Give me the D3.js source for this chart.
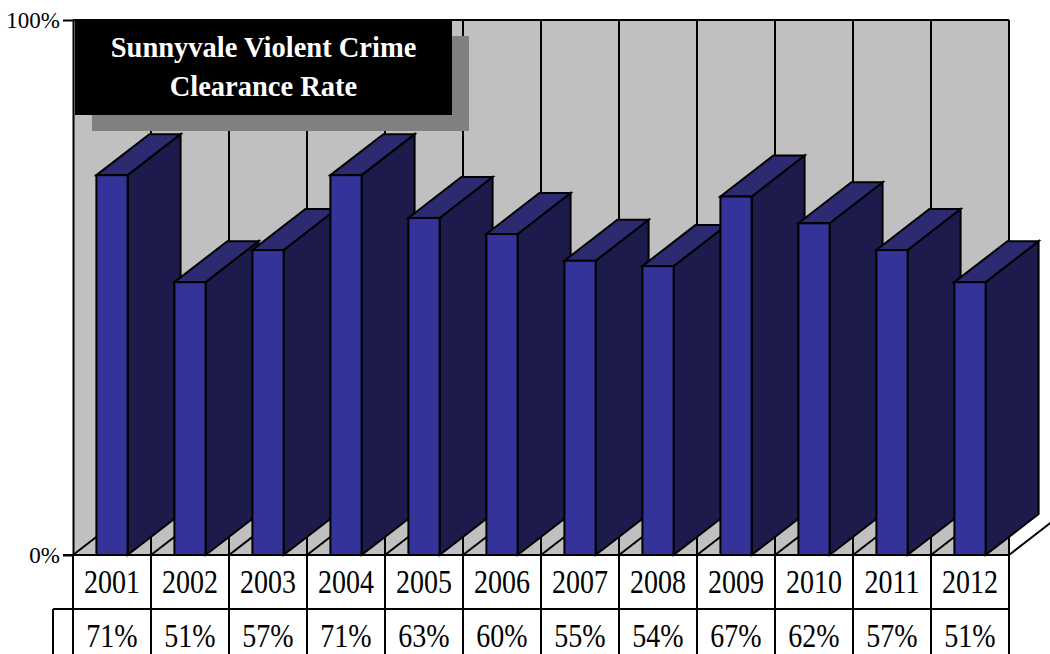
<!DOCTYPE html>
<html>
<head>
<meta charset="utf-8">
<script src="https://cdn.jsdelivr.net/npm/d3@7/dist/d3.min.js"></script>
<style>
  html, body { margin: 0; padding: 0; background: #ffffff; }
  svg { display: block; }
  text { font-family: "Liberation Serif", "Times New Roman", serif; }
</style>
</head>
<body>
<svg id="chart" width="1050" height="654"></svg>
<script>
// Sunnyvale violent crime clearance rate, 2001–2012 (percent)
const years = ["2001", "2002", "2003", "2004", "2005", "2006", "2007", "2008", "2009", "2010", "2011", "2012"];
const rates = [71, 51, 57, 71, 63, 60, 55, 54, 67, 62, 57, 51];
const yTicks = [0, 100];
const titleLines = ["Sunnyvale Violent Crime", "Clearance Rate"];

const W = 1050, H = 654;
const plot = { left: 73, right: 1009, top: 20, bottom: 555 };
const depth = { dx: 53, dy: -41 };      // oblique offset for the 3-D look
const rowSplit = 609;                    // line between year row and value row

const colors = {
  wall: "#c0c0c0",
  front: "#333399",
  top: "#2c2a70",
  side: "#1d1b4b",
  titleBg: "#000000",
  titleShadow: "#808080",
  line: "#000000"
};

const svg = d3.select("#chart");

const x = d3.scaleBand().domain(years).range([plot.left, plot.right]).padding(0);
const y = d3.scaleLinear().domain([0, 100]).range([plot.bottom, plot.top]);
const bw = x.bandwidth();
const barW = bw * 0.4;
const barOffset = bw * 0.3;

// back wall
svg.append("rect")
  .attr("x", plot.left).attr("y", plot.top)
  .attr("width", plot.right - plot.left).attr("height", plot.bottom - plot.top)
  .attr("fill", colors.wall);

// category boundaries on the wall and their floor diagonals
const bounds = years.map(d => x(d)).concat([plot.right]);
const grid = svg.append("g").attr("stroke", colors.line).attr("stroke-width", 2).attr("fill", "none");
grid.selectAll("line.v")
  .data(bounds.slice(1))
  .join("line")
  .attr("class", "v")
  .attr("x1", d => d).attr("x2", d => d)
  .attr("y1", plot.top).attr("y2", plot.bottom);
grid.selectAll("line.f")
  .data(bounds)
  .join("line")
  .attr("class", "f")
  .attr("x1", d => d).attr("y1", plot.bottom)
  .attr("x2", d => d + depth.dx).attr("y2", plot.bottom + depth.dy);
grid.append("line")
  .attr("x1", plot.left).attr("x2", plot.right)
  .attr("y1", plot.top).attr("y2", plot.top);

// bars: front, top and side faces
const bars = svg.append("g")
  .attr("stroke", colors.line).attr("stroke-width", 2).attr("stroke-linejoin", "miter");

years.forEach((yr, i) => {
  const xl = x(yr) + barOffset;
  const xr = xl + barW;
  const yt = y(rates[i]);
  const yb = y(0);
  const g = bars.append("g");
  g.append("polygon")
    .attr("fill", colors.side)
    .attr("points", [
      [xr, yb], [xr + depth.dx, yb + depth.dy], [xr + depth.dx, yt + depth.dy], [xr, yt]
    ].map(p => p.join(",")).join(" "));
  g.append("polygon")
    .attr("fill", colors.top)
    .attr("points", [
      [xl, yt], [xl + depth.dx, yt + depth.dy], [xr + depth.dx, yt + depth.dy], [xr, yt]
    ].map(p => p.join(",")).join(" "));
  g.append("rect")
    .attr("fill", colors.front)
    .attr("x", xl).attr("y", yt)
    .attr("width", barW).attr("height", yb - yt);
});

// value axis
const axis = d3.axisLeft(y)
  .tickValues(yTicks)
  .tickFormat(d => d + "%")
  .tickSize(10)
  .tickSizeOuter(0)
  .tickPadding(3);
const axisG = svg.append("g")
  .attr("transform", `translate(${plot.left},0)`)
  .call(axis);
axisG.select(".domain").attr("stroke-width", 2);
axisG.selectAll(".tick line").attr("stroke-width", 2);
axisG.selectAll(".tick text")
  .attr("font-family", "'Liberation Serif', 'Times New Roman', serif")
  .attr("font-size", 23)
  .attr("fill", "#000");

// data table under the chart
const table = svg.append("g").attr("stroke", colors.line).attr("stroke-width", 2);
table.append("line")
  .attr("x1", plot.left - 10).attr("x2", plot.right)
  .attr("y1", plot.bottom).attr("y2", plot.bottom);
table.append("line")
  .attr("x1", 53).attr("x2", plot.right)
  .attr("y1", rowSplit).attr("y2", rowSplit);
table.append("line")
  .attr("x1", 53).attr("x2", 53)
  .attr("y1", rowSplit).attr("y2", H);
table.selectAll("line.col")
  .data(bounds)
  .join("line")
  .attr("class", "col")
  .attr("x1", d => d).attr("x2", d => d)
  .attr("y1", plot.bottom).attr("y2", H);

const cellText = svg.append("g")
  .attr("font-size", 28)
  .attr("fill", "#000")
  .attr("text-anchor", "middle");
cellText.selectAll("text.year")
  .data(years)
  .join("text")
  .attr("class", "year")
  .attr("transform", d => `translate(${x(d) + bw / 2},593) scale(1,1.17)`)
  .text(d => d);
cellText.selectAll("text.val")
  .data(rates)
  .join("text")
  .attr("class", "val")
  .attr("transform", (d, i) => `translate(${x(years[i]) + bw / 2},647) scale(1,1.17)`)
  .text(d => d + "%");

// title box with drop shadow
const tb = { x: 75, y: 19, w: 377, h: 96, off: 15 };
svg.append("rect")
  .attr("x", tb.x + tb.off + 2).attr("y", tb.y + tb.off + 2)
  .attr("width", tb.w).attr("height", tb.h - 1)
  .attr("fill", colors.titleShadow);
svg.append("rect")
  .attr("x", tb.x).attr("y", tb.y)
  .attr("width", tb.w).attr("height", tb.h)
  .attr("fill", colors.titleBg);
svg.append("g")
  .attr("fill", "#ffffff")
  .attr("font-weight", "bold")
  .attr("font-size", 28.5)
  .attr("text-anchor", "middle")
  .selectAll("text")
  .data(titleLines)
  .join("text")
  .attr("x", tb.x + tb.w / 2)
  .attr("y", (d, i) => 57 + i * 39)
  .text(d => d);
</script>
</body>
</html>
